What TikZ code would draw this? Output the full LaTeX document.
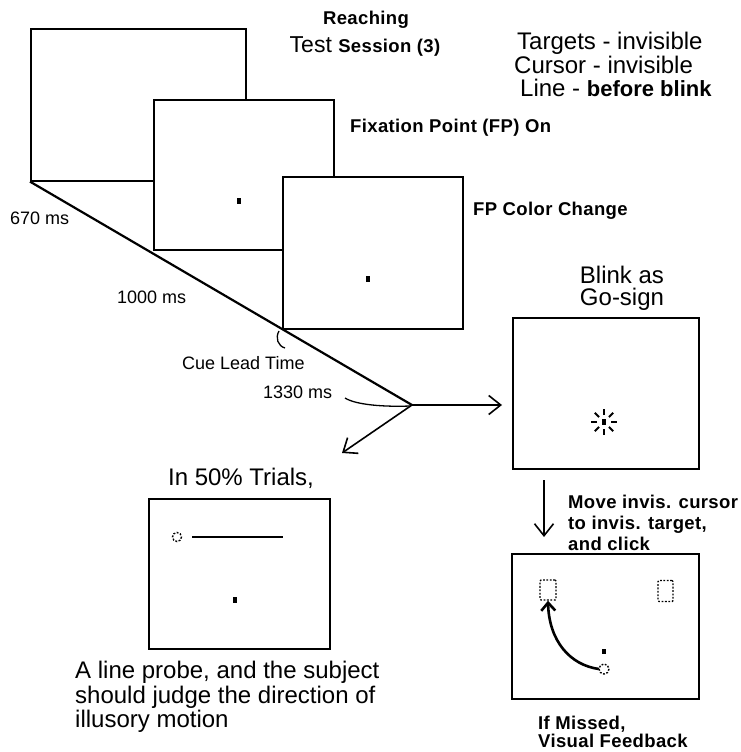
\documentclass[tikz,border=0pt]{standalone}
\usepackage{fontspec}
\setmainfont{Liberation Sans}
\usetikzlibrary{arrows.meta}
\begin{document}
\begin{tikzpicture}[x=1pt,y=-1pt,
  screen/.style={draw, line width=1.6pt, fill=white, inner sep=0pt, anchor=north west},
  small/.style={inner sep=0pt, font=\fontsize{18}{20}\selectfont},
  boldlbl/.style={inner sep=0pt, font=\fontsize{18.5}{21}\selectfont\bfseries\addfontfeature{LetterSpace=2}},
  big/.style={inner sep=0pt, font=\fontsize{24}{24.5}\selectfont},
  fixpt/.style={fill=black, minimum width=4.5pt, minimum height=6.5pt, inner sep=0pt},
  barb/.style={line width=1.6pt, -{Straight Barb[length=12pt,width=19pt]}},
  dotbox/.style={draw, line width=1.4pt, dash pattern=on 1.8pt off 1.6pt, rounded corners=1pt},
  dotring/.style={line width=1.4pt, dash pattern=on 1.8pt off 1.6pt}
]
\useasboundingbox (0,0) rectangle (741,752);

% Stacked screens, back to front
\node[screen, minimum width=215pt, minimum height=152pt] (s1) at (30,28) {};
\node[screen, minimum width=180pt, minimum height=150pt] (s2) at (153,99) {};
\node[screen, minimum width=180pt, minimum height=152pt] (s3) at (282,176) {};
\node[fixpt] (dot2) at (239,201) {};
\node[fixpt] (dot3) at (368,279) {};

% Time axis through the lower-left corners of the screens
\coordinate (j) at (412,405);
\draw[line width=2.2pt] (s1.south west) -- (j);

% Branches
\coordinate (rightEnd) at (502,405);
\coordinate (probeEnd) at (342,453);
\draw[barb] (j) -- (rightEnd);
\draw[barb] (j) -- (probeEnd);

% Brackets for the cue lead time and the 1330 ms mark
\draw[line width=1.3pt] (279,331) .. controls (275,338) and (278,346) .. (285,348);
\draw[line width=1.3pt] (345,398) .. controls (356,405) and (385,407) .. (410,406);

% Timing labels
\node[small, anchor=west] (t670) at (10,218) {670 ms};
\node[small, anchor=west] (t1000) at (117,297) {1000 ms};
\node[small, anchor=west] (cue) at (182,363) {Cue Lead Time};
\node[small, anchor=west] (t1330) at (263,392) {1330 ms};

% Header
\node[boldlbl] (reach) at (366,20) {Reaching};
\node[inner sep=0pt] (sess) at (365,47) {{\fontsize{23}{23}\selectfont Test\ }{\fontsize{18.5}{18}\selectfont\bfseries\addfontfeature{LetterSpace=2}Session (3)}};
\node[big, anchor=west] (cond1) at (517,43) {Targets - invisible};
\node[big, anchor=west] (cond2) at (514,65) {Cursor - invisible};
\node[big, anchor=west] (cond3) at (520,88) {Line - {\fontsize{22}{24}\selectfont\bfseries before blink}};

% Screen captions
\node[boldlbl, anchor=west] (fpon) at (350,128) {Fixation Point (FP) On};
\node[boldlbl, anchor=west] (fpcc) at (473,211) {FP Color Change};

% Blink screen
\node[big] (blinkA) at (622,275) {Blink as};
\node[big] (blinkB) at (622,299) {Go-sign};
\node[screen, minimum width=186pt, minimum height=151pt] (blink) at (512,317) {};
\node[fill=black, minimum width=4.5pt, minimum height=5.5pt, inner sep=0pt] (bfp) at (604,422) {};
\foreach \a in {0,45,...,315}
  \draw[line width=2pt] (bfp.center) ++(\a:7) -- ++(\a:6);

% Reach screen
\coordinate (downTop) at (544,480);
\coordinate (downEnd) at (544,537);
\draw[barb] (downTop) -- (downEnd);
\node[boldlbl, anchor=west, align=left] (move) at (568,523) {Move invis. cursor\\to invis. target,\\and click};
\node[screen, minimum width=187pt, minimum height=145pt] (reachS) at (511,553) {};
\node[dotbox, minimum width=16pt, minimum height=20pt, inner sep=0pt] (tgtL) at (548,590) {};
\node[dotbox, minimum width=15pt, minimum height=21pt, inner sep=0pt] (tgtR) at (665.5,591) {};
\node[fill=black, minimum width=4pt, minimum height=5pt, inner sep=0pt] (rfp) at (604,651) {};
\node[circle, minimum size=10pt, inner sep=0pt] (cur) at (604,669) {};
\draw[dotring] (cur.center) circle (5);
\draw[line width=2.6pt, -{Straight Barb[length=8pt,width=14pt]}]
  (cur.west) .. controls (570,665) and (549,641) .. (tgtL.south);
\node[boldlbl, anchor=base west] (miss1) at (538,729) {If Missed,};
\node[boldlbl, anchor=base west] (miss2) at (538,747) {Visual Feedback};

% Line-probe screen
\node[big] (half) at (241,478) {In 50\% Trials,};
\node[screen, minimum width=181pt, minimum height=150pt] (probe) at (148,498) {};
\node[circle, minimum size=10pt, inner sep=0pt] (pcur) at (177,537) {};
\draw[dotring] (pcur.center) circle (4.5);
\coordinate (lineEnd) at (283,537);
\draw[line width=2pt] (192,537) -- (lineEnd);
\node[fill=black, minimum width=4.5pt, minimum height=6.5pt, inner sep=0pt] (pfp) at (235,600) {};
\node[big, anchor=west, align=left] (desc) at (75,697) {A line probe, and the subject\\should judge the direction of\\illusory motion};

\end{tikzpicture}
\end{document}
